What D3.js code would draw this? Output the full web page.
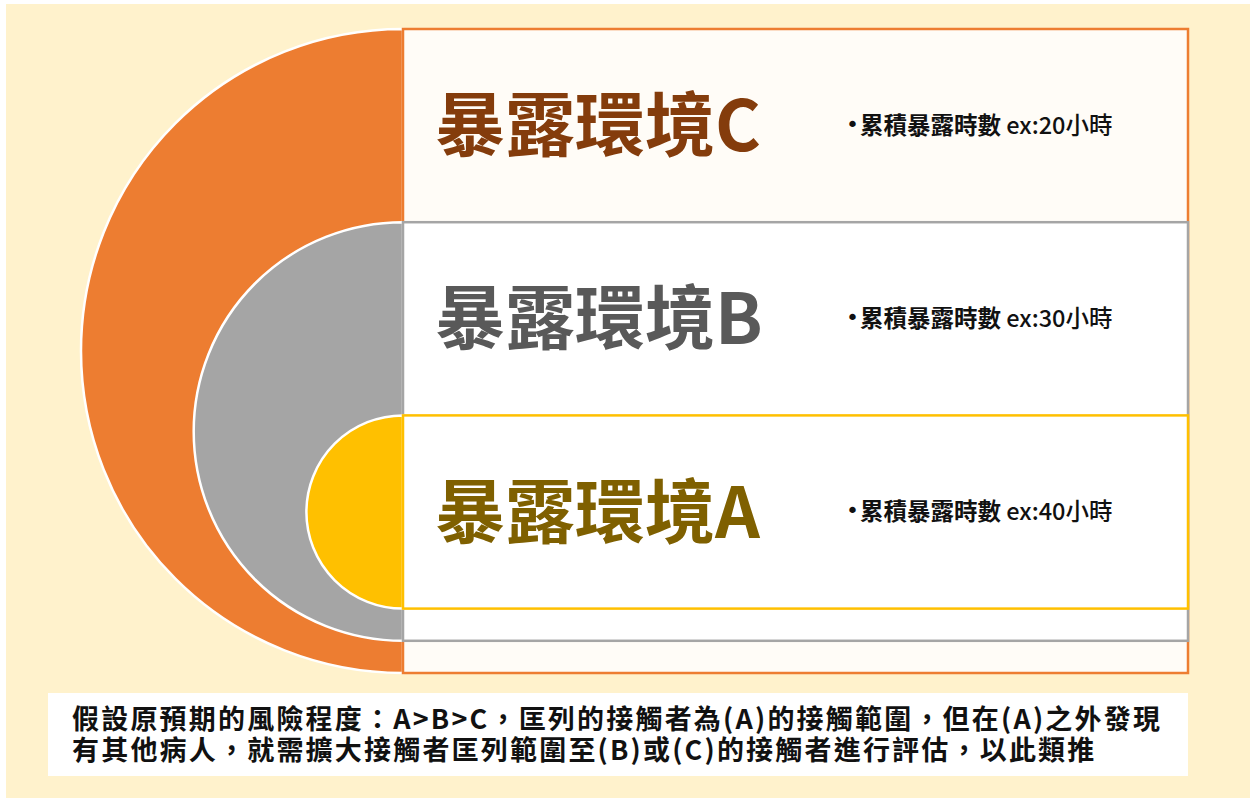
<!DOCTYPE html>
<html>
<head>
<meta charset="utf-8">
<script src="https://cdn.jsdelivr.net/npm/d3@7"></script>
<style>
  html, body { margin: 0; padding: 0; background: #ffffff; }
  svg { display: block; }
</style>
</head>
<body>
<svg id="chart" width="1250" height="798"></svg>
<script>
// ---- data ----
const categories = ["暴露環境C", "暴露環境B", "暴露環境A"];
const hours = [20, 30, 40];
const bulletPrefix = "累積暴露時數";
const fillColors = ["#ED7D31", "#A5A5A5", "#FFC000"];
const titleColors = ["#843C0C", "#595959", "#7F6000"];
const boxFills = ["#FFFCF7", "#FFFFFF", "#FFFFFF"];
const noteLines = [
  "假設原預期的風險程度：A>B>C，匡列的接觸者為(A)的接觸範圍，但在(A)之外發現",
  "有其他病人，就需擴大接觸者匡列範圍至(B)或(C)的接觸者進行評估，以此類推"
];

const W = 1250, H = 798;
const svg = d3.select("#chart");
const font = "'Noto Sans CJK TC', 'Noto Sans', sans-serif";

// background
svg.append("rect").attr("x", 6).attr("y", 4).attr("width", W - 6).attr("height", H - 4)
  .attr("fill", "#FFF2CC");

// scales: vertical units (each row = 6 units, extra strips = 1 unit)
const y = d3.scaleLinear().domain([0, 20]).range([29, 673]);
const x = d3.scaleLinear().domain([0, 1]).range([403, 1188]);

const levels = categories.map((c, i) => ({
  name: c, hours: hours[i], i,
  top: y(6 * i), bottom: y(20 - i),
  bandMid: y(6 * i + 3)
}));

const arc = d3.arc();

levels.forEach(d => {
  const cy = (d.top + d.bottom) / 2;
  const r = (d.bottom - d.top) / 2;
  svg.append("path")
    .attr("transform", `translate(${x(0)},${cy})`)
    .attr("d", arc({ innerRadius: 0, outerRadius: r, startAngle: Math.PI, endAngle: 2 * Math.PI }))
    .attr("fill", fillColors[d.i])
    .attr("stroke", "#ffffff")
    .attr("stroke-width", 2.5);
  svg.append("rect")
    .attr("x", x(0)).attr("y", d.top)
    .attr("width", x(1) - x(0)).attr("height", d.bottom - d.top)
    .attr("fill", boxFills[d.i])
    .attr("stroke", fillColors[d.i])
    .attr("stroke-width", 2.5);
});

levels.forEach(d => {
  svg.append("text")
    .attr("x", 435).attr("y", d.bandMid - 5)
    .attr("dominant-baseline", "central")
    .attr("font-family", font)
    .attr("font-size", 70)
    .attr("font-weight", 700)
    .attr("fill", titleColors[d.i])
    .text(d.name);

  const t = svg.append("text")
    .attr("x", 846).attr("y", d.bandMid - 2)
    .attr("dominant-baseline", "central")
    .attr("font-family", font)
    .attr("font-size", 23.5)
    .attr("fill", "#111111");
  t.append("tspan").attr("font-family", "'DejaVu Sans', sans-serif").attr("font-size", 22).text("•");
  t.append("tspan").attr("dx", 1).attr("font-weight", 700).text(bulletPrefix);
  t.append("tspan").attr("font-weight", 500).text(" ex:" + d.hours + "小時");
});

// note box
svg.append("rect").attr("x", 48).attr("y", 693).attr("width", 1140).attr("height", 83)
  .attr("fill", "#FFFFFF");
svg.selectAll("text.note").data(noteLines).join("text")
  .attr("class", "note")
  .attr("x", 72)
  .attr("y", (d, i) => 729 + i * 31)
  .attr("font-family", font)
  .attr("font-size", 27)
  .attr("font-weight", 700)
  .attr("letter-spacing", 2.2)
  .attr("fill", "#111111")
  .text(d => d);
</script>
</body>
</html>
